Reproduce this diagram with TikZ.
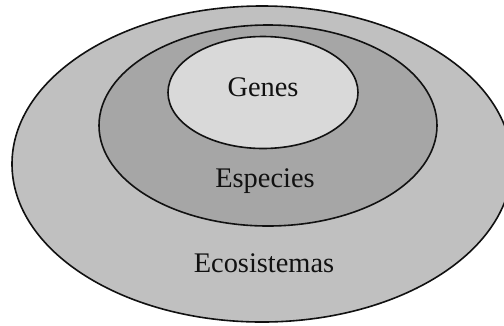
\documentclass[tikz,border=0pt]{standalone}
\usepackage{fontspec}
\setmainfont{Liberation Serif}
\usetikzlibrary{shapes.geometric}
\definecolor{ecogray}{HTML}{C0C0C0}
\definecolor{spegray}{HTML}{A6A6A6}
\definecolor{gengray}{HTML}{D9D9D9}
\definecolor{ink}{HTML}{111111}

\begin{document}
\begin{tikzpicture}[
    x=1bp, y=-1bp,
    % Nested level ellipse
    level/.style={ellipse, draw=ink, line width=1.6bp, inner sep=0pt},
    % Level caption
    lbl/.style={font=\fontsize{28.5}{32}\selectfont, text=ink}
]
\useasboundingbox (0,0) rectangle (504,325);
\clip (0,0) rectangle (504,325);

% ---------- Ellipses ----------
\node[level, fill=ecogray, minimum width=500bp, minimum height=316bp] at (262, 164) (eco) {};
\node[level, fill=spegray, minimum width=338bp, minimum height=201bp] at (268, 125.5) (spe) {};
\node[level, fill=gengray, minimum width=190bp, minimum height=112bp] at (263, 92.5) (gen) {};

% ---------- Captions ----------
\node[lbl] at (263, 87) (genlbl) {Genes};
\node[lbl] at (265, 181) (spelbl) {Especies};
\node[lbl] at (264, 263) (ecolbl) {Ecosistemas};

\end{tikzpicture}
\end{document}
